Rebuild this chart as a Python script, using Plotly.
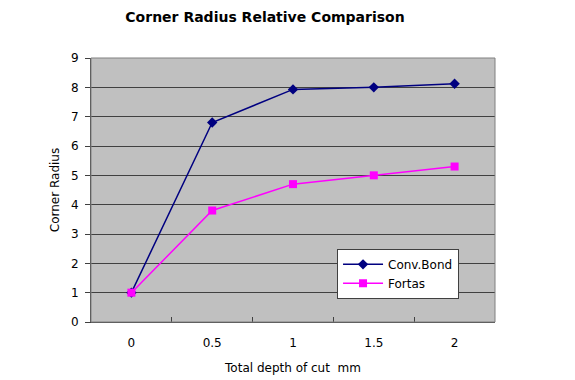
import plotly.graph_objects as go

categories = ["0", "0.5", "1", "1.5", "2"]
conv_bond = [1.0, 6.8, 7.93, 8.0, 8.12]
fortas = [1.0, 3.8, 4.7, 5.0, 5.3]

font_family = "DejaVu Sans, sans-serif"

fig = go.Figure()
fig.add_trace(go.Scatter(
    x=categories, y=conv_bond, name="Conv.Bond", mode="lines+markers",
    line=dict(color="#000080", width=1.5),
    marker=dict(symbol="diamond", size=8, color="#000080"),
))
fig.add_trace(go.Scatter(
    x=categories, y=fortas, name="Fortas", mode="lines+markers",
    line=dict(color="#FF00FF", width=1.5),
    marker=dict(symbol="square", size=8, color="#FF00FF"),
))

fig.update_layout(
    width=575, height=380,
    margin=dict(l=83, r=88, t=50, b=66),
    paper_bgcolor="white",
    plot_bgcolor="#C0C0C0",
    font=dict(family=font_family, size=12, color="black"),
    title=dict(text="<b>Corner Radius Relative Comparison</b>", x=0.447, xanchor="center",
               y=0.976, yanchor="middle", font=dict(size=14, family=font_family),
               automargin=False),
    showlegend=True,
    legend=dict(x=0.609, y=0.277, xanchor="left", yanchor="top",
                bgcolor="white", bordercolor="#404040", borderwidth=1,
                font=dict(size=12), tracegroupgap=0, itemwidth=40),
    xaxis=dict(
        type="category", range=[-0.5, 4.5], tickson="boundaries",
        ticks="inside", ticklen=5, tickcolor="#404040",
        showgrid=False, showline=True, linecolor="#404040", linewidth=1,
        mirror=False, ticklabelstandoff=10, automargin=False,
        title=dict(text="Total depth of cut  mm", standoff=14, font=dict(size=12)),
    ),
    yaxis=dict(
        range=[0, 9], dtick=1, ticks="outside", ticklen=5, tickcolor="#404040",
        showgrid=True, gridcolor="#404040", gridwidth=1,
        showline=True, linecolor="#404040", linewidth=1, zeroline=False,
        ticklabelstandoff=4, automargin=False,
        title=dict(text="Corner Radius", standoff=8, font=dict(size=12)),
    ),
    shapes=[dict(type="rect", xref="paper", yref="paper", x0=0, y0=0, x1=1, y1=1,
                 line=dict(color="#808080", width=1), layer="above")],
)

fig.write_html("out.html")
